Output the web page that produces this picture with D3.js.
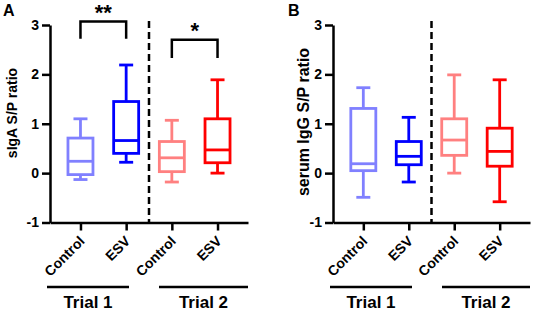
<!DOCTYPE html>
<html>
<head>
<meta charset="utf-8">
<script src="https://cdn.jsdelivr.net/npm/d3@7"></script>
<style>
  body { margin: 0; background: #fff; }
  svg { display: block; font-family: Arial, "Liberation Sans", sans-serif; font-weight: bold; }
</style>
</head>
<body>
<svg id="chart" width="536" height="313"></svg>
<script>
'use strict';

// categories and tick labels
const categories = ['Control T1', 'ESV T1', 'Control T2', 'ESV T2'];
const tickLabels = ['Control', 'ESV', 'Control', 'ESV'];
const trials     = ['Trial 1', 'Trial 2'];
const colors     = ['#8080ff', '#0000ff', '#ff8080', '#ff0000'];
const yTicks     = [-1, 0, 1, 2, 3];

// box stats: [min, q1, median, q3, max]
const sigaBoxes = [
  [-0.13, -0.03, 0.24, 0.71, 1.10],
  [ 0.22,  0.40, 0.66, 1.45, 2.19],
  [-0.18,  0.03, 0.31, 0.64, 1.07],
  [ 0.00,  0.21, 0.47, 1.10, 1.89]
];
const iggBoxes = [
  [-0.49,  0.05, 0.19, 1.31, 1.73],
  [-0.18,  0.17, 0.34, 0.64, 1.13],
  [ 0.00,  0.36, 0.67, 1.10, 1.99],
  [-0.58,  0.14, 0.44, 0.91, 1.89]
];

// significance brackets: from/to category index, top and leg end in y units
const sigaSig = [
  { from: 0, to: 1, top: 3.07, leg: 2.72, label: '**' },
  { from: 2, to: 3, top: 2.70, leg: 2.33, label: '*' }
];

const svg = d3.select('#chart');

function panel(p) {
  const x = d3.scalePoint()
              .domain(categories)
              .range([p.left, p.left + p.width])
              .padding(0.667);

  const y = d3.scaleLinear()
              .domain([-1, 3])
              .range([222.5, 25]);

  const g = svg.append('g');

  // panel letter
  g.append('text')
    .attr('x', p.letterX).attr('y', 16)
    .style('font-size', '16px')
    .text(p.letter);

  // y-axis
  const yAxis = g.append('g')
    .attr('transform', `translate(${p.left},0)`)
    .call(d3.axisLeft(y).tickValues(yTicks).tickSize(8).tickSizeOuter(0).tickPadding(3).tickFormat((d) => String(d)));
  yAxis.selectAll('path, line').attr('stroke', '#000').attr('stroke-width', 2.5);
  yAxis.selectAll('text').style('font-size', '14px').style('font-family', 'Arial, "Liberation Sans", sans-serif').style('font-weight', 'bold');

  // y title
  g.append('text')
    .attr('transform', `translate(${p.titleX},${p.titleY}) rotate(-90)`)
    .attr('text-anchor', 'middle')
    .style('font-size', p.titleSize + 'px')
    .text(p.title);

  // x-axis
  const xAxis = g.append('g')
    .attr('transform', `translate(0,${y(-1)})`)
    .call(d3.axisBottom(x).tickSize(8).tickSizeOuter(0).tickFormat(''));
  xAxis.selectAll('path, line').attr('stroke', '#000').attr('stroke-width', 2.5);

  // rotated tick labels
  g.selectAll('.xlab')
    .data(categories)
    .enter().append('text')
      .attr('class', 'xlab')
      .attr('transform', (d) => `translate(${x(d) + 5},${242}) rotate(-45)`)
      .attr('text-anchor', 'end')
      .style('font-size', '14px')
      .text((d, i) => tickLabels[i]);

  // dashed separator
  const sepX = (x(categories[1]) + x(categories[2])) / 2;
  g.append('line')
    .attr('x1', sepX).attr('x2', sepX)
    .attr('y1', y(3.08)).attr('y2', y(-1))
    .attr('stroke', '#000')
    .attr('stroke-width', 2.5)
    .attr('stroke-dasharray', '7,4');

  // boxes
  const boxW = 25, capW = 14;
  const boxes = g.selectAll('.box')
    .data(p.boxes)
    .enter().append('g')
      .attr('class', 'box')
      .attr('stroke', (d, i) => colors[i])
      .attr('stroke-width', 2.8)
      .attr('fill', 'none');

  boxes.each(function(d, i) {
    const b = d3.select(this);
    const cx = x(categories[i]);
    // whiskers
    b.append('line').attr('x1', cx).attr('x2', cx).attr('y1', y(d[0])).attr('y2', y(d[1]));
    b.append('line').attr('x1', cx).attr('x2', cx).attr('y1', y(d[3])).attr('y2', y(d[4]));
    // caps
    b.append('line').attr('x1', cx - capW / 2).attr('x2', cx + capW / 2).attr('y1', y(d[0])).attr('y2', y(d[0]));
    b.append('line').attr('x1', cx - capW / 2).attr('x2', cx + capW / 2).attr('y1', y(d[4])).attr('y2', y(d[4]));
    // box
    b.append('rect')
      .attr('x', cx - boxW / 2).attr('width', boxW)
      .attr('y', y(d[3])).attr('height', y(d[1]) - y(d[3]));
    // median
    b.append('line').attr('x1', cx - boxW / 2).attr('x2', cx + boxW / 2).attr('y1', y(d[2])).attr('y2', y(d[2]));
  });

  // significance brackets
  (p.sig || []).forEach((s) => {
    const x1 = x(categories[s.from]), x2 = x(categories[s.to]);
    g.append('path')
      .attr('d', `M${x1},${y(s.leg)}V${y(s.top)}H${x2}V${y(s.leg)}`)
      .attr('fill', 'none')
      .attr('stroke', '#000')
      .attr('stroke-width', 2.5);
    g.append('text')
      .attr('x', (x1 + x2) / 2)
      .attr('y', y(s.top) - 1.5)
      .attr('text-anchor', 'middle')
      .style('font-size', '22px')
      .text(s.label);
  });

  // trial group lines
  const trialSpans = [
    [p.left - 3, p.left + 79],
    [p.left + 109, p.left + p.width]
  ];
  trials.forEach((t, i) => {
    const [a, b2] = trialSpans[i];
    g.append('line')
      .attr('x1', a).attr('x2', b2)
      .attr('y1', 287).attr('y2', 287)
      .attr('stroke', '#000')
      .attr('stroke-width', 2.7);
    g.append('text')
      .attr('x', (a + b2) / 2).attr('y', 308)
      .attr('text-anchor', 'middle')
      .style('font-size', '17px')
      .text(t);
  });
}

panel({
  letter: 'A', letterX: 3,
  left: 50, width: 198,
  title: 'sIgA S/P ratio', titleX: 17, titleY: 113, titleSize: 14,
  boxes: sigaBoxes, sig: sigaSig
});

panel({
  letter: 'B', letterX: 288,
  left: 333, width: 197,
  title: 'serum IgG S/P ratio', titleX: 309, titleY: 122, titleSize: 16,
  boxes: iggBoxes
});
</script>
</body>
</html>
